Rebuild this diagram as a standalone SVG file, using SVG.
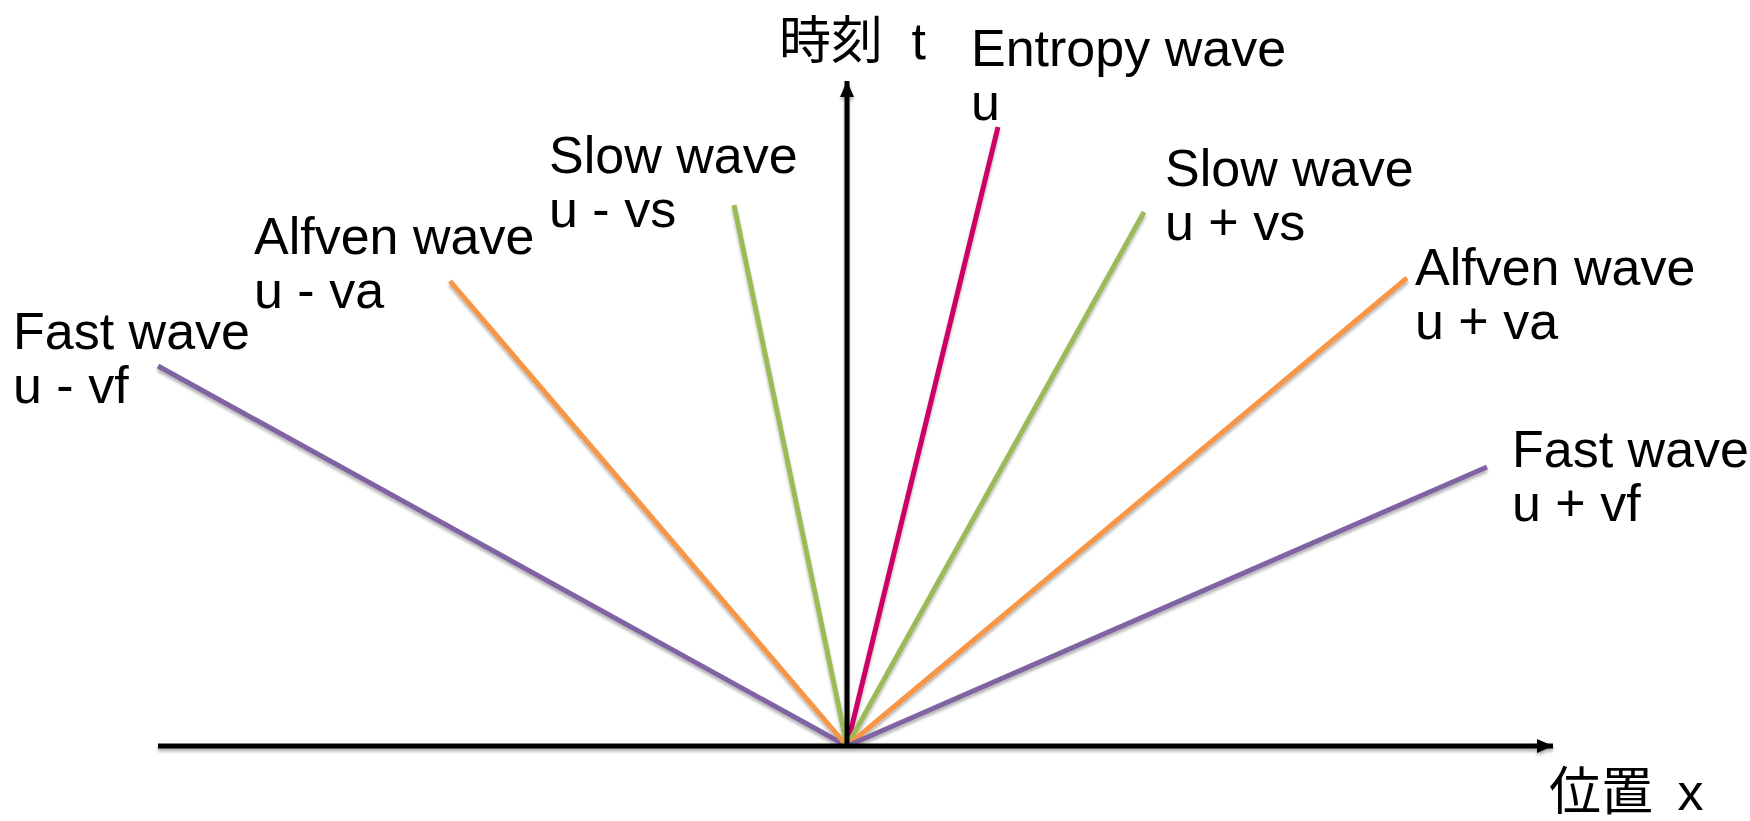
<svg xmlns="http://www.w3.org/2000/svg" width="1750" height="821" viewBox="0 0 1750 821">
  <defs>
    <filter id="sh" x="-10%" y="-10%" width="120%" height="120%">
      <feGaussianBlur in="SourceAlpha" stdDeviation="1.5"/>
      <feOffset dx="0" dy="3" result="b"/>
      <feComponentTransfer><feFuncA type="linear" slope="0.3"/></feComponentTransfer>
      <feMerge><feMergeNode/><feMergeNode in="SourceGraphic"/></feMerge>
    </filter>
    <marker id="arr" viewBox="0 0 16 14" refX="16" refY="7" markerWidth="16" markerHeight="14" markerUnits="userSpaceOnUse" orient="auto">
      <path d="M0,0 L16,7 L0,14 Z" fill="#000"/>
    </marker>
  </defs>
  <style>
    text { font-family: "Liberation Sans", "Noto Sans CJK JP", sans-serif; font-size: 52px; fill: #000; }
    .w { fill: none; stroke-width: 5; stroke-linecap: butt; }
    .fast { stroke: #8064A2; }
    .alf { stroke: #F79646; }
    .slow { stroke: #9BBB59; }
    .ent { stroke: #CC0066; }
    .ax { stroke: #000; stroke-width: 5; fill: none; }
  </style>
  <rect width="1750" height="821" fill="#fff"/>
  <g id="connectors" filter="url(#sh)">
    <line class="w fast" x1="847" y1="746" x2="158" y2="366"/>
    <line class="w alf" x1="847" y1="746" x2="450" y2="281"/>
    <line class="w slow" x1="847" y1="746" x2="734" y2="205"/>
    <line class="w ent" x1="847" y1="746" x2="998" y2="127"/>
    <line class="w slow" x1="847" y1="746" x2="1144" y2="212"/>
    <line class="w alf" x1="847" y1="746" x2="1407" y2="278"/>
    <line class="w fast" x1="847" y1="746" x2="1487" y2="467"/>
    <line id="x-axis" class="ax" x1="158" y1="746" x2="1553" y2="746" marker-end="url(#arr)"/>
    <line id="t-axis" class="ax" x1="847" y1="748" x2="847" y2="81" marker-end="url(#arr)"/>
  </g>
  <g id="label-t"><text x="779" y="59" word-spacing="14">時刻 t</text></g>
  <g id="label-x"><text x="1549" y="810" word-spacing="10">位置 x</text></g>
  <g id="entropy"><text x="971" y="66">Entropy wave</text><text x="971" y="120">u</text></g>
  <g id="slow-left"><text x="549" y="173">Slow wave</text><text x="549" y="227">u - vs</text></g>
  <g id="alfven-left"><text x="254" y="254">Alfven wave</text><text x="254" y="308">u - va</text></g>
  <g id="fast-left"><text x="13" y="349">Fast wave</text><text x="13" y="403">u - vf</text></g>
  <g id="slow-right"><text x="1165" y="186">Slow wave</text><text x="1165" y="240">u + vs</text></g>
  <g id="alfven-right"><text x="1415" y="285">Alfven wave</text><text x="1415" y="339">u + va</text></g>
  <g id="fast-right"><text x="1512" y="467">Fast wave</text><text x="1512" y="521">u + vf</text></g>
</svg>
